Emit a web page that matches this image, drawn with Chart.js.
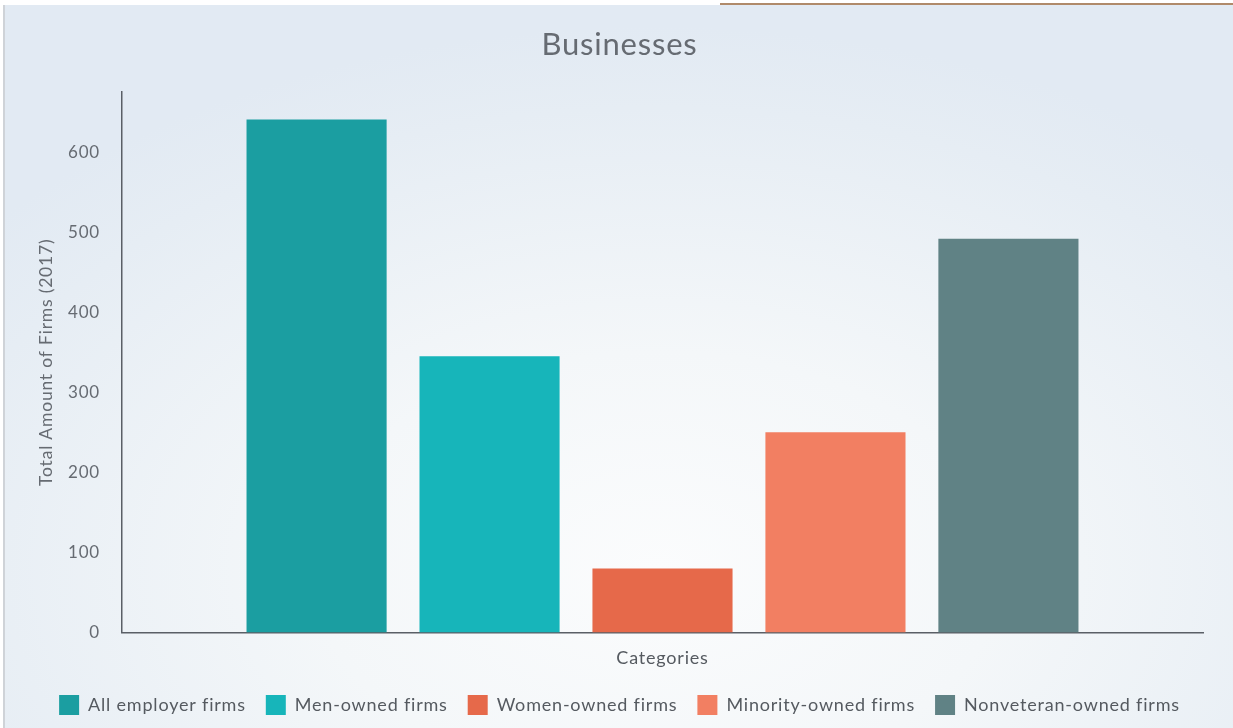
<!DOCTYPE html>
<html>
<head>
<meta charset="utf-8">
<title>Businesses</title>
<script src="https://cdn.jsdelivr.net/npm/chart.js@4/dist/chart.umd.min.js"></script>
<style>
    html, body {
        margin: 0;
        padding: 0;
        background: #ffffff;
    }
    .card {
        position: absolute;
        left: 3px;
        top: 5px;
        width: 1230px;
        height: 723px;
        border-left: 2px solid #cfd3d8;
        background: radial-gradient(ellipse 70% 75% at 53% 78%, #fbfcfd 0%, #f4f7f9 40%, #e6edf4 85%, #e2eaf3 100%);
    }
    .topline {
        position: absolute;
        left: 720px;
        top: 3px;
        width: 513px;
        height: 2px;
        background: #b08a6a;
    }
    #myChart {
        position: absolute;
        left: 0;
        top: 0;
    }
</style>
</head>
<body>
<div class="card"></div>
<div class="topline"></div>
<canvas id="myChart" width="1233" height="728"></canvas>
<script>
const categories = ["All employer firms", "Men-owned firms", "Women-owned firms", "Minority-owned firms", "Nonveteran-owned firms"];
const firmCounts = [641, 345, 80, 250, 492];
const barColors = ["#1b9ea1", "#17b5ba", "#e6694a", "#f27f62", "#608285"];
const yTicks = [0, 100, 200, 300, 400, 500, 600];

// slightly spaced lettering for all chart text
const spacedText = {
    id: "spacedText",
    beforeUpdate: chart => { chart.ctx.letterSpacing = "0.8px"; },
    beforeDraw: chart => { chart.ctx.letterSpacing = "0.8px"; }
};

function drawChart() {
    const ctx = document.getElementById("myChart");

    const datasets = categories.map((name, i) => ({
        label: name,
        data: [firmCounts[i]],
        backgroundColor: barColors[i],
        borderWidth: 0,
        barPercentage: 0.81
    }));

    new Chart(ctx, {
        type: "bar",
        data: {
            labels: [""],
            datasets: datasets
        },
        plugins: [spacedText],
        options: {
            responsive: false,
            animation: false,
            layout: {
                padding: { left: 36, right: 30, top: 18, bottom: 3 }
            },
            plugins: {
                title: {
                    display: true,
                    text: "Businesses",
                    color: "#666b72",
                    font: { family: "Lato", size: 31, weight: "normal" },
                    padding: { top: 8, bottom: 29 }
                },
                legend: {
                    position: "bottom",
                    labels: {
                        color: "#555a60",
                        font: { family: "Lato", size: 18 },
                        boxWidth: 20,
                        boxHeight: 20,
                        padding: 20
                    }
                },
                tooltip: { enabled: false }
            },
            scales: {
                x: {
                    grid: { display: false, drawTicks: false },
                    border: { display: true, color: "#5a5f66", width: 1.5 },
                    ticks: { display: false },
                    title: {
                        display: true,
                        text: "Categories",
                        color: "#555a60",
                        font: { family: "Lato", size: 18 },
                        padding: { top: 15, bottom: 6 }
                    }
                },
                y: {
                    min: 0,
                    max: 675,
                    grid: { display: false, drawTicks: false },
                    border: { display: true, color: "#5a5f66", width: 1.5 },
                    afterBuildTicks: axis => {
                        axis.ticks = yTicks.map(v => ({ value: v }));
                    },
                    afterFit: axis => {
                        axis.width = 86;
                    },
                    ticks: {
                        color: "#666b72",
                        font: { family: "Lato", size: 17 },
                        padding: 22
                    },
                    title: {
                        display: true,
                        text: "Total Amount of Firms (2017)",
                        color: "#666b72",
                        font: { family: "Lato", size: 17.5 },
                        padding: { top: 0, bottom: 12 }
                    }
                }
            }
        }
    });
}

document.addEventListener("DOMContentLoaded", drawChart);
</script>
</body>
</html>
